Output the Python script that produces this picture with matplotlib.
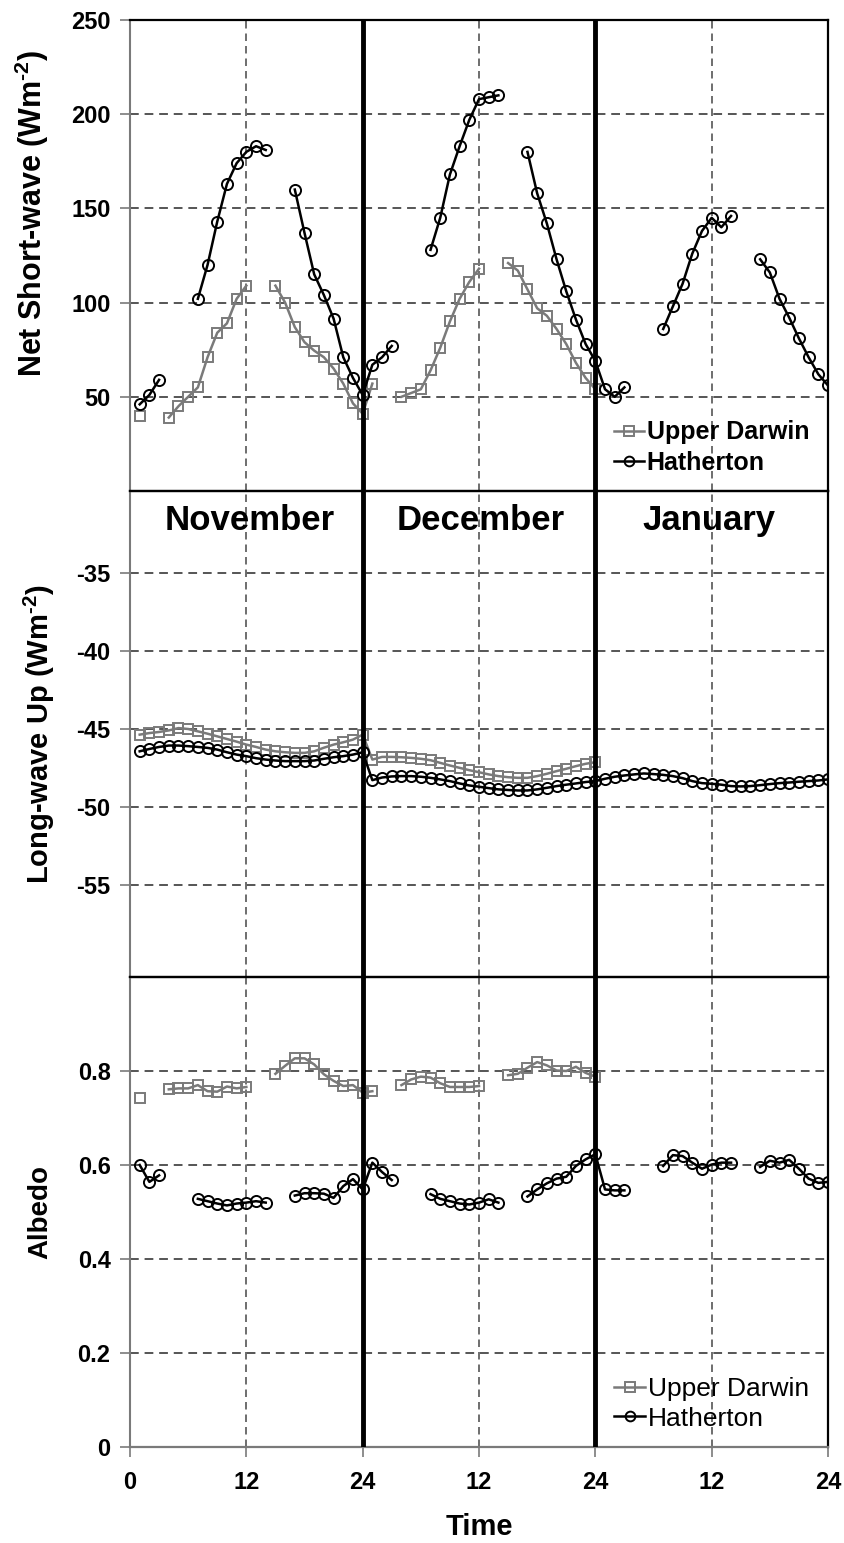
import numpy as np
import matplotlib
matplotlib.use('Agg')
import matplotlib.pyplot as plt
from matplotlib.lines import Line2D

plt.rcParams['font.family'] = ['Liberation Sans', 'DejaVu Sans']
plt.rcParams['font.weight'] = 'bold'
plt.rcParams['mathtext.fontset'] = 'custom'
plt.rcParams['mathtext.rm'] = 'Liberation Sans:bold'
plt.rcParams['mathtext.bf'] = 'Liberation Sans:bold'
plt.rcParams['mathtext.it'] = 'Liberation Sans:bold'
plt.rcParams['mathtext.default'] = 'regular'

N = None
months = ['November', 'December', 'January']
month_centres = [12.3, 36.2, 59.7]
xtick_pos = [0, 12, 24, 36, 48, 60, 72]
xtick_labels = ['0', '12', '24', '12', '24', '12', '24']
sites = ['Upper Darwin', 'Hatherton']

# ---- Net short-wave (W m-2), hourly 1..24 per month
sw_ud_nov = [40, N, N, 39, 45, 50, 55, 71, 84, 89, 102, 109, N, N, 109, 100, 87, 79, 74.5, 71, 65, 57, 46.5, 41]
sw_ud_dec = [57, N, N, 50, 52, 54, 64, 76, 90, 102, 111, 118, N, N, 121, 117, 107, 97, 93, 86, 78, 68, 60, 54]
sw_ud_jan = [N] * 24
sw_ha_nov = [46, 51, 59, N, N, N, 102, 120, 143, 163, 174, 180, 183, 181, N, N, 160, 137, 115, 104, 91.5, 71, 60, 51]
sw_ha_dec = [67, 71, 77, N, N, N, 128, 145, 168, 183, 197, 208, 209, 210, N, N, 180, 158, 142, 123, 106, 91, 78, 69]
sw_ha_jan = [54, 50, 55, N, N, N, 86, 98, 110, 126, 138, 145, 140, 146, N, N, 123, 116, 102, 92, 81, 71, 62, 56]

# ---- Long-wave up (W m-2)
lw_ud_nov = [-45.36, -45.26, -45.19, -45.09, -44.94, -45.0, -45.15, -45.3, -45.47, -45.64, -45.81, -46.0,
             -46.15, -46.32, -46.43, -46.49, -46.53, -46.53, -46.43, -46.2, -46.0, -45.85, -45.68, -45.36]
lw_ud_dec = [-46.96, -46.79, -46.79, -46.81, -46.85, -46.91, -47.0, -47.17, -47.34, -47.49, -47.64, -47.77,
             -47.91, -48.02, -48.09, -48.13, -48.13, -48.02, -47.87, -47.7, -47.55, -47.38, -47.23, -47.13]
lw_ud_jan = [N] * 24
lw_ha_nov = [-46.43, -46.28, -46.15, -46.06, -46.06, -46.1, -46.15, -46.21, -46.32, -46.49, -46.64, -46.74,
             -46.87, -46.96, -47.02, -47.06, -47.06, -47.06, -47.02, -46.91, -46.81, -46.74, -46.64, -46.49]
lw_ha_dec = [-48.28, -48.11, -48.04, -48.02, -48.02, -48.06, -48.13, -48.23, -48.34, -48.49, -48.62, -48.7,
             -48.79, -48.87, -48.91, -48.94, -48.94, -48.87, -48.77, -48.66, -48.57, -48.49, -48.4, -48.34]
lw_ha_jan = [-48.19, -48.06, -47.98, -47.91, -47.85, -47.89, -47.94, -48.02, -48.15, -48.34, -48.47, -48.51,
             -48.57, -48.66, -48.68, -48.66, -48.6, -48.53, -48.47, -48.43, -48.38, -48.34, -48.3, -48.23]

# ---- Albedo
al_ud_nov = [0.742, N, N, 0.761, 0.763, 0.763, 0.77, 0.757, 0.756, 0.767, 0.763, 0.766, N, N,
             0.794, 0.811, 0.827, 0.827, 0.814, 0.793, 0.779, 0.768, 0.77, 0.754]
al_ud_dec = [0.757, N, N, 0.77, 0.782, 0.788, 0.786, 0.774, 0.766, 0.766, 0.766, 0.768, N, N,
             0.791, 0.794, 0.807, 0.819, 0.812, 0.801, 0.8, 0.809, 0.796, 0.788]
al_ud_jan = [N] * 24
al_ha_nov = [0.6, 0.564, 0.578, N, N, N, 0.528, 0.523, 0.518, 0.514, 0.518, 0.52, 0.523, 0.52, N, N,
             0.535, 0.54, 0.54, 0.539, 0.53, 0.555, 0.57, 0.548]
al_ha_dec = [0.605, 0.585, 0.568, N, N, N, 0.538, 0.528, 0.523, 0.518, 0.516, 0.52, 0.527, 0.52, N, N,
             0.533, 0.548, 0.561, 0.571, 0.575, 0.598, 0.612, 0.623]
al_ha_jan = [0.548, 0.546, 0.546, N, N, N, 0.598, 0.621, 0.619, 0.605, 0.592, 0.601, 0.605, 0.605, N, N,
             0.596, 0.609, 0.605, 0.611, 0.592, 0.571, 0.562, 0.564]


def cat(*parts):
    return np.array([np.nan if v is None else v for p in parts for v in p], dtype=float)


hours = np.arange(1, 73)

GRAY = '#7a7a7a'
GRID = '#555555'
ud_style = dict(color=GRAY, lw=1.8, marker='s', ms=7.5, mfc='none', mec=GRAY, mew=1.4)
ha_style = dict(color='black', lw=1.8, marker='o', ms=8, mfc='none', mec='black', mew=1.4)

W, H = 844, 1543
fig = plt.figure(figsize=(W / 100, H / 100), dpi=100)
left, width = 130 / W, 698 / W


def axes_px(top, bottom):
    return fig.add_axes([left, 1 - bottom / H, width, (bottom - top) / H])


ax_sw = axes_px(20, 491)
ax_lw = axes_px(491, 977)
ax_al = axes_px(977, 1447)

panels = [
    (ax_sw, cat(sw_ud_nov, sw_ud_dec, sw_ud_jan), cat(sw_ha_nov, sw_ha_dec, sw_ha_jan),
     (0, 250), [50, 100, 150, 200, 250], ['50', '100', '150', '200', '250'], [50, 100, 150, 200]),
    (ax_lw, cat(lw_ud_nov, lw_ud_dec, lw_ud_jan), cat(lw_ha_nov, lw_ha_dec, lw_ha_jan),
     (-60.9, -29.74), [-35, -40, -45, -50, -55], ['-35', '-40', '-45', '-50', '-55'], [-35, -40, -45, -50, -55]),
    (ax_al, cat(al_ud_nov, al_ud_dec, al_ud_jan), cat(al_ha_nov, al_ha_dec, al_ha_jan),
     (0, 1.0), [0, 0.2, 0.4, 0.6, 0.8], ['0', '0.2', '0.4', '0.6', '0.8'], [0.2, 0.4, 0.6, 0.8]),
]

dash = (0, (4.5, 3))
for ax, ud, ha, ylim, yt, ytl, grid_y in panels:
    ax.set_xlim(0, 72)
    ax.set_ylim(*ylim)
    for gy in grid_y:
        ax.axhline(gy, color=GRID, lw=1.4, ls=dash, zorder=1)
    for gx in (12, 36, 60):
        ax.axvline(gx, color=GRID, lw=1.2, ls=dash, zorder=1)
    for gx in (24, 48):
        ax.axvline(gx, color='black', lw=3.5, zorder=4)
    ax.plot(hours, ud, zorder=3, **ud_style)
    ax.plot(hours, ha, zorder=3, **ha_style)
    ax.set_yticks(yt)
    ax.set_yticklabels(ytl, fontsize=17, fontweight='bold')
    ax.tick_params(axis='y', direction='out', length=7, width=1.2, color=GRAY, pad=7)
    ax.spines['left'].set_color(GRAY)
    ax.spines['left'].set_linewidth(1.5)
    for s in ('top', 'right', 'bottom'):
        ax.spines[s].set_color('black')
        ax.spines[s].set_linewidth(1.6)
    ax.set_facecolor('none')

for ax in (ax_sw, ax_lw):
    ax.set_xticks([])

ax_al.set_xticks(xtick_pos)
ax_al.set_xticklabels(xtick_labels, fontsize=17, fontweight='bold')
ax_al.tick_params(axis='x', direction='out', length=7, width=1.2, color=GRAY, pad=10)
ax_al.spines['bottom'].set_color(GRAY)
ax_al.set_xlabel('Time', fontsize=21, fontweight='bold', labelpad=14)

ax_sw.set_ylabel('Net Short-wave (Wm$^{\\text{-2}}$)', fontsize=22, fontweight='bold')
ax_sw.yaxis.set_label_coords(-0.113, 0.59)
ax_lw.set_ylabel('Long-wave Up (Wm$^{\\text{-2}}$)', fontsize=21, fontweight='bold')
ax_lw.yaxis.set_label_coords(-0.104, 0.50)
ax_al.set_ylabel('Albedo', fontsize=20, fontweight='bold')
ax_al.yaxis.set_label_coords(-0.11, 0.50)

for name, xc in zip(months, month_centres):
    ax_lw.text(xc, -31.6, name, ha='center', va='center', fontsize=25, fontweight='bold', zorder=5)

handles = [Line2D([], [], **{**ud_style, 'ms': 6.5}), Line2D([], [], **{**ha_style, 'ms': 7})]
ax_sw.legend(handles, sites, loc='lower right', bbox_to_anchor=(0.973, 0.035), frameon=False,
             prop=dict(size=18, weight='bold'), handlelength=1.2, handletextpad=0.1,
             labelspacing=0.25, borderaxespad=0, borderpad=0)
ax_al.legend(handles, sites, loc='lower right', bbox_to_anchor=(0.973, 0.035), frameon=False,
             prop=dict(size=19, weight='normal'), handlelength=1.2, handletextpad=0.1,
             labelspacing=0.2, borderaxespad=0, borderpad=0)

fig.savefig('out.png', dpi=100)
